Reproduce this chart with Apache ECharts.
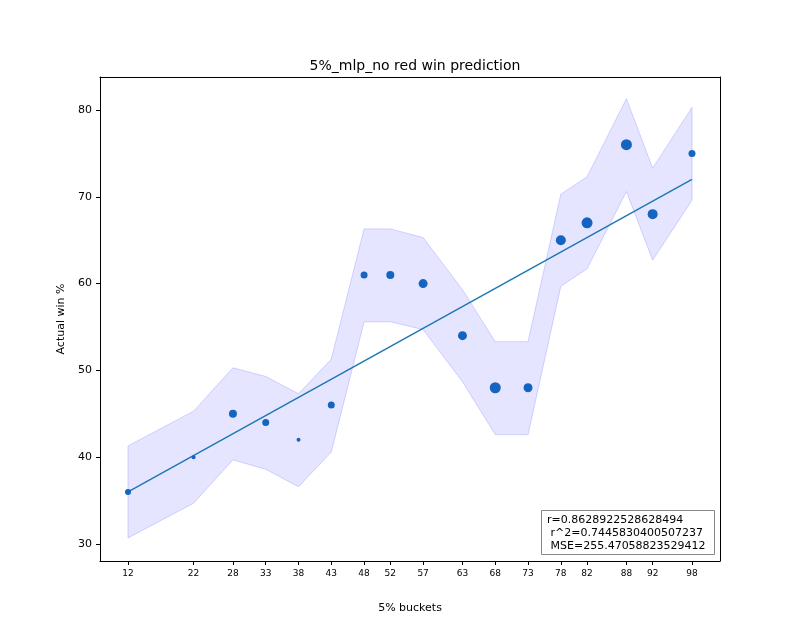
<!DOCTYPE html>
<html lang="en">
<head>
    <meta charset="UTF-8">
    <title>5%_mlp_no red win prediction</title>
    <style>
        * { padding: 0; margin: 0; }
        #chart { width: 800px; height: 640px; background: #fff; }
    </style>
    <script src="https://cdn.jsdelivr.net/npm/echarts@6.0.0/dist/echarts.min.js"></script>
</head>
<body>
<div id="chart"></div>
<script>
    // data
    const buckets = [12, 22, 28, 33, 38, 43, 48, 52, 57, 63, 68, 73, 78, 82, 88, 92, 98]
    const actual = [36, 40, 45, 44, 42, 46, 61, 61, 60, 54, 48, 48, 65, 67, 76, 68, 75]
    const dotSize = [6, 4, 8, 7, 4, 7, 7, 8, 9, 9, 11, 9, 10, 11, 11, 10, 7]
    const bandUpper = [41.3, 45.3, 50.3, 49.3, 47.3, 51.3, 66.3, 66.3, 65.3, 59.3, 53.3, 53.3, 70.3, 72.3, 81.3, 73.3, 80.3]
    const bandLower = [30.7, 34.7, 39.7, 38.6, 36.6, 40.6, 55.6, 55.6, 54.7, 48.7, 42.6, 42.6, 59.7, 61.7, 70.6, 62.7, 69.6]
    const fitLine = [[12, 36], [98, 72]]
    const yTicks = [30, 40, 50, 60, 70, 80]
    const statsText = 'r=0.8628922528628494\n r^2=0.7445830400507237\n MSE=255.47058823529412'

    let chart = echarts.init(document.getElementById('chart'))
    let font = 'DejaVu Sans'
    let spine = { show: true, onZero: false, lineStyle: { color: '#000' } }

    let option = {
        animation: false,
        textStyle: { fontFamily: font },
        title: {
            text: '5%_mlp_no red win prediction',
            left: 410, top: 54, textAlign: 'center',
            textStyle: { fontSize: 14, fontWeight: 'normal', color: '#000', fontFamily: font }
        },
        grid: { left: 100, right: 80, top: 77, bottom: 79 },
        xAxis: [{
            type: 'value', min: 7.73, max: 102.27,
            name: '5% buckets', nameLocation: 'middle', nameGap: 42,
            nameTextStyle: { fontSize: 11, color: '#000' },
            axisLine: spine,
            axisTick: { customValues: buckets, length: 4, lineStyle: { color: '#000' } },
            axisLabel: { customValues: buckets, fontSize: 9, color: '#000' },
            splitLine: { show: false }
        }, {
            type: 'value', position: 'top', min: 7.73, max: 102.27,
            axisLine: spine, axisTick: { show: false }, axisLabel: { show: false }, splitLine: { show: false }
        }],
        yAxis: [{
            type: 'value', min: 28.04, max: 83.8,
            name: 'Actual win %', nameLocation: 'middle', nameGap: 28,
            nameTextStyle: { fontSize: 11, color: '#000' },
            axisLine: spine,
            axisTick: { show: true, customValues: yTicks, length: 4, lineStyle: { color: '#000' } },
            axisLabel: { customValues: yTicks, fontSize: 11, color: '#000' },
            splitLine: { show: false }
        }, {
            type: 'value', position: 'right', min: 28.04, max: 83.8,
            axisLine: spine, axisTick: { show: false }, axisLabel: { show: false }, splitLine: { show: false }
        }],
        series: [
            {
                type: 'custom',
                silent: true,
                data: [0],
                renderItem: (params, api) => {
                    let pts = []
                    buckets.forEach((b, i) => pts.push(api.coord([b, bandUpper[i]])))
                    for (let i = buckets.length - 1; i >= 0; i--) pts.push(api.coord([buckets[i], bandLower[i]]))
                    return {
                        type: 'polygon',
                        shape: { points: pts },
                        style: { fill: 'rgba(0,0,255,0.1)', stroke: 'rgba(120,120,255,0.3)', lineWidth: 1 }
                    }
                },
                z: 1
            },
            {
                type: 'line',
                data: fitLine,
                showSymbol: false,
                lineStyle: { color: '#1f77b4', width: 1.5 },
                z: 2
            },
            {
                type: 'scatter',
                data: buckets.map((b, i) => [b, actual[i], dotSize[i]]),
                symbolSize: d => d[2],
                itemStyle: { color: '#1565c0', opacity: 1 },
                z: 3
            }
        ],
        graphic: [
            {
                type: 'rect', left: 541, top: 510,
                shape: { width: 173, height: 44 },
                style: { fill: '#fff', stroke: '#888', lineWidth: 1 }
            },
            {
                type: 'text', left: 547, top: 514,
                style: { text: statsText, font: '11px DejaVu Sans', fill: '#000', lineHeight: 13 }
            }
        ]
    }
    chart.setOption(option)
</script>
</body>
</html>
